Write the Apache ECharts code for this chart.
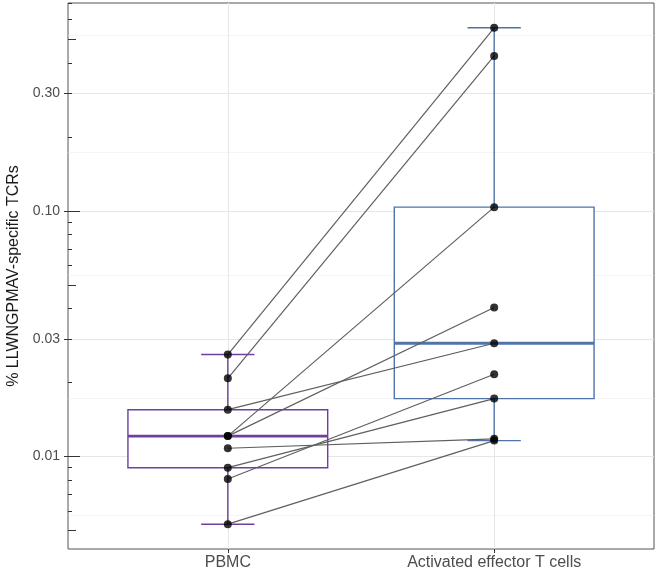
<!DOCTYPE html>
<html>
<head>
<meta charset="utf-8">
<script src="https://cdn.jsdelivr.net/npm/echarts@6/dist/echarts.min.js"></script>
<style>
  html, body { margin: 0; padding: 0; background: #fff; }
  #chart { width: 661px; height: 573px; }
</style>
</head>
<body>
<div id="chart"></div>
<script>
// groups on the x axis (placed at 1 and 2)
const groups = ['PBMC', 'Activated effector T cells']
// paired samples: pbmc[i] <-> activated[i]
const pbmc = [0.0260, 0.0208, 0.0155, 0.0121, 0.0121, 0.0108, 0.0090, 0.0081, 0.0053]
const activated = [0.556, 0.427, 0.0289, 0.1035, 0.0404, 0.0118, 0.0172, 0.0216, 0.0116]
// labelled y breaks
const yBreaks = [0.01, 0.03, 0.1, 0.3]
const boxColors = ['#6f3fa0', '#4f74aa']

const lg = Math.log10

// quantile type 7 (same as R default)
const quantile = (sorted, p) => {
  const h = (sorted.length - 1) * p
  const lo = Math.floor(h)
  const hi = Math.ceil(h)
  return sorted[lo] + (sorted[hi] - sorted[lo]) * (h - lo)
}

// box stats in log space: [lower whisker, Q1, median, Q3, upper whisker]
const boxStats = (vals) => {
  const s = vals.map(lg).sort((a, b) => a - b)
  const q1 = quantile(s, 0.25)
  const med = quantile(s, 0.5)
  const q3 = quantile(s, 0.75)
  const iqr = q3 - q1
  const lo = s.filter(v => v >= q1 - 1.5 * iqr)[0]
  const hi = s.filter(v => v <= q3 + 1.5 * iqr).pop()
  return [lo, q1, med, q3, hi]
}

// y range with 5% expansion like ggplot
const allLogs = pbmc.concat(activated).map(lg)
const dMin = Math.min(...allLogs)
const dMax = Math.max(...allLogs)
const pad = (dMax - dMin) * 0.05
const yMin = dMin - pad
const yMax = dMax + pad

const breakLogs = yBreaks.map(lg)
// minor grid lines halfway between breaks (extended one step each side)
const ext = [breakLogs[0] - (breakLogs[1] - breakLogs[0])]
  .concat(breakLogs)
  .concat([breakLogs[3] + (breakLogs[3] - breakLogs[2])])
const minorLogs = []
for (let i = 0; i < ext.length - 1; i++) minorLogs.push((ext[i] + ext[i + 1]) / 2)

// log ticks annotation (1..9 x 10^k), long / mid / short
const tickLong = [], tickMid = [], tickShort = []
for (let k = -3; k <= 0; k++) {
  for (let m = 1; m <= 9; m++) {
    const v = lg(m) + k
    if (v < yMin || v > yMax) continue
    if (m === 1) tickLong.push(v)
    else if (m === 5) tickMid.push(v)
    else tickShort.push(v)
  }
}

const tickAxis = (vals, len) => ({
  type: 'value', min: yMin, max: yMax, position: 'left',
  axisLine: { show: false },
  axisLabel: { show: false },
  splitLine: { show: false },
  axisTick: { show: true, inside: true, length: len, customValues: vals,
    lineStyle: { color: '#333', width: 1 } }
})

const font = 'Liberation Sans, Arial, sans-serif'
const chart = echarts.init(document.getElementById('chart'))

const option = {
  animation: false,
  grid: {
    left: 68, right: 7, top: 3, bottom: 24,
    outerBoundsMode: 'none',
    show: true, borderColor: '#555', borderWidth: 1, backgroundColor: 'transparent'
  },
  xAxis: {
    type: 'value', min: 0.4, max: 2.6,
    axisLine: { show: false },
    axisTick: { show: true, length: 4, customValues: [1, 2], lineStyle: { color: '#333' } },
    axisLabel: {
      customValues: [1, 2], margin: 6,
      formatter: v => groups[Math.round(v) - 1],
      color: '#4d4d4d', fontSize: 16, fontFamily: font
    },
    splitLine: { show: true, lineStyle: { color: '#e6e6e6', width: 1 } }
  },
  yAxis: [
    {
      type: 'value', min: yMin, max: yMax, position: 'left',
      name: '% LLWNGPMAV-specific TCRs',
      nameLocation: 'middle', nameGap: 45,
      nameTextStyle: { fontSize: 16, color: '#1a1a1a', fontFamily: font },
      axisLine: { show: false },
      axisTick: { show: true, length: 4, customValues: breakLogs, lineStyle: { color: '#333' } },
      axisLabel: {
        customValues: breakLogs, margin: 8,
        formatter: v => Math.pow(10, v).toFixed(2),
        color: '#4d4d4d', fontSize: 14, fontFamily: font
      },
      splitLine: { show: true, lineStyle: { color: '#e6e6e6', width: 1 } }
    },
    {
      // minor grid lines
      type: 'value', min: yMin, max: yMax, position: 'left',
      axisLine: { show: false },
      axisLabel: { show: false },
      axisTick: { show: false, customValues: minorLogs },
      splitLine: { show: true, lineStyle: { color: '#efefef', width: 0.6 } }
    },
    tickAxis(tickShort, 4),
    tickAxis(tickMid, 8),
    tickAxis(tickLong, 12)
  ],
  series: [
    {
      type: 'custom',
      z: 2,
      silent: true,
      data: [pbmc, activated].map((vals, i) => [i + 1].concat(boxStats(vals))),
      renderItem: (params, api) => {
        const x = api.value(0)
        const [lo, q1, med, q3, hi] = [1, 2, 3, 4, 5].map(d => api.value(d))
        const color = boxColors[params.dataIndex]
        const halfBox = 0.375
        const halfCap = 0.1
        const p = (xv, yv) => api.coord([xv, yv])
        const seg = (a, b, w) => ({
          type: 'line',
          shape: { x1: a[0], y1: a[1], x2: b[0], y2: b[1] },
          style: { stroke: color, lineWidth: w }
        })
        const tl = p(x - halfBox, q3)
        const br = p(x + halfBox, q1)
        return {
          type: 'group',
          children: [
            seg(p(x, hi), p(x, q3), 1.4),
            seg(p(x, q1), p(x, lo), 1.4),
            seg(p(x - halfCap, hi), p(x + halfCap, hi), 1.4),
            seg(p(x - halfCap, lo), p(x + halfCap, lo), 1.4),
            {
              type: 'rect',
              shape: { x: tl[0], y: tl[1], width: br[0] - tl[0], height: br[1] - tl[1] },
              style: { fill: '#fff', stroke: color, lineWidth: 1.4 }
            },
            seg(p(x - halfBox, med), p(x + halfBox, med), 2.8)
          ]
        }
      }
    },
    ...pbmc.map((v, i) => ({
      type: 'line',
      z: 3,
      silent: true,
      symbol: 'none',
      lineStyle: { color: '#5f5f5f', width: 1.2 },
      data: [[1, lg(v)], [2, lg(activated[i])]]
    })),
    {
      type: 'scatter',
      z: 4,
      silent: true,
      symbolSize: 8,
      itemStyle: { color: '#000' },
      data: pbmc.map(v => [1, lg(v)]).concat(activated.map(v => [2, lg(v)]))
    }
  ]
}

chart.setOption(option)
</script>
</body>
</html>
